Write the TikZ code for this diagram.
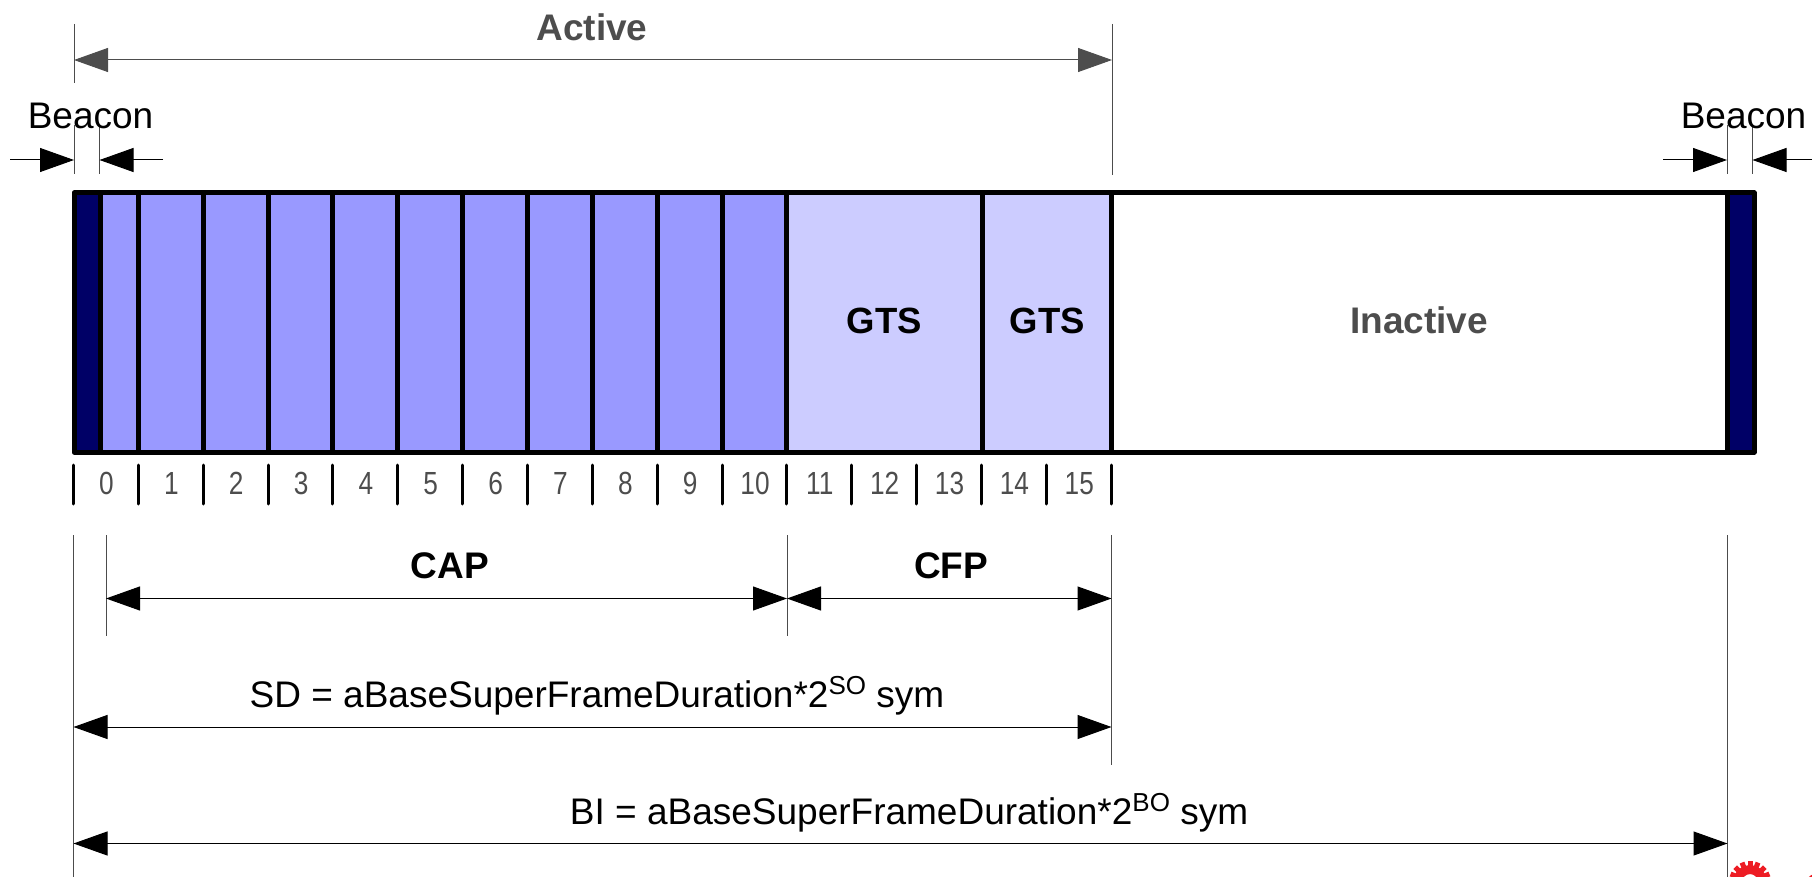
\documentclass[tikz,border=0pt]{standalone}
\usepackage{fontspec}
\setmainfont{Liberation Sans}
\usetikzlibrary{arrows.meta}
\definecolor{capblue}{HTML}{9999FF}
\definecolor{gtsblue}{HTML}{CCCCFF}
\definecolor{beaconblue}{HTML}{000066}
\definecolor{greytext}{HTML}{4D4D4D}
\definecolor{gearred}{HTML}{ED1C24}
\newcommand{\supr}[1]{\raisebox{13pt}{\fontsize{26}{26}\selectfont #1}}
\tikzset{
  x=1pt,y=-1pt,
  px/.style={font=\fontsize{#1}{#1}\selectfont},
  bpx/.style={font=\fontsize{#1}{#1}\selectfont\bfseries},
  heavy/.style={line width=5pt,line cap=round,line join=round},
  tick/.style={line width=3pt,line cap=round},
  guide/.style={line width=1pt,draw=black!70},
  dim/.style={line width=1pt,{Triangle[length=34pt,width=24pt,fill=black]}-{Triangle[length=34pt,width=24pt,fill=black]}},
  dimgrey/.style={line width=1pt,draw=greytext,{Triangle[length=34pt,width=24pt,fill=greytext]}-{Triangle[length=34pt,width=24pt,fill=greytext]}},
  onehead/.style={line width=1pt,-{Triangle[length=34pt,width=24pt,fill=black]}},
  txt/.style={inner sep=0pt,anchor=base},
}
\begin{document}
\begin{tikzpicture}
\useasboundingbox (0,0) rectangle (1812,877);
% fills
\fill[capblue] (74,193) rectangle (787,452);
\fill[gtsblue] (787,193) rectangle (1112,452);
\fill[beaconblue] (74,193) rectangle (100,452);
\fill[beaconblue] (1727,193) rectangle (1754,452);
% cell dividers
\foreach \i in {1,...,11}{
  \draw[heavy] ({73.5+\i*64.85},193) -- ({73.5+\i*64.85},452);
}
\draw[heavy] (100,193) -- (100,452);
\draw[heavy] (982,193) -- (982,452);
\draw[heavy] (1111.5,193) -- (1111.5,452);
\draw[heavy] (1727,193) -- (1727,452);
\draw[heavy] (74,193) rectangle (1754,452);
% ticks and numbers
\foreach \i in {0,...,16}{
  \draw[tick] ({73.5+\i*64.85},465) -- ({73.5+\i*64.85},504);
}
\foreach \i in {0,...,15}{
  \node[txt,px=32,text=greytext,xscale=0.82] at ({106.5+\i*64.85},494) {\i};
}
% guides
\coordinate (aL) at (74,60); \coordinate (aR) at (1112,60);
\coordinate (bL1) at (74,160); \coordinate (bL2) at (99.5,160);
\coordinate (bR1) at (1727,160); \coordinate (bR2) at (1752.5,160);
\draw[guide] (74,24) -- (74,83);
\draw[guide] (74,125) -- (74,174);
\draw[guide] (99.5,125) -- (99.5,174);
\draw[guide] (1112,24) -- (1112,175);
\draw[guide] (1727,125) -- (1727,174);
\draw[guide] (1752.5,125) -- (1752.5,174);
\draw[guide] (73.5,535) -- (73.5,877);
\draw[guide] (106,535) -- (106,636);
\draw[guide] (787,535) -- (787,636);
\draw[guide] (1111.5,535) -- (1111.5,765);
\draw[guide] (1727.5,535) -- (1727.5,877);
% dimension arrows
\draw[dimgrey] (aL) -- (aR);
\draw[dim] (106,598.5) -- (787,598.5);
\draw[dim] (787,598.5) -- (1111.5,598.5);
\draw[dim] (73.5,727) -- (1111.5,727);
\draw[dim] (73.5,843.5) -- (1727.5,843.5);
\coordinate (b1) at (10,160); \coordinate (b2) at (163,160);
\coordinate (b3) at (1663,160); \coordinate (b4) at (1812,160);
\draw[onehead] (b1) -- (bL1);
\draw[onehead] (b2) -- (bL2);
\draw[onehead] (b3) -- (bR1);
\draw[onehead] (b4) -- (bR2);
% labels
\node[txt,px=37] at (90.5,129) {Beacon};
\node[txt,px=37] at (1743.5,129) {Beacon};
\node[txt,bpx=37,text=greytext] at (592,41) {Active};
\node[txt,bpx=36.5] at (884.5,334) {GTS};
\node[txt,bpx=36.5] at (1047.5,334) {GTS};
\node[txt,bpx=37,text=greytext] at (1419,334) {Inactive};
\node[txt,bpx=37] at (450,578) {CAP};
\node[txt,bpx=37] at (951,578) {CFP};
\node[txt,px=37] at (597,707) {SD = aBaseSuperFrameDuration*2\supr{SO} sym};
\node[txt,px=37] at (909,824) {BI = aBaseSuperFrameDuration*2\supr{BO} sym};
% gear cut by the lower edge
\begin{scope}
\clip (0,0) rectangle (1812,877);
\foreach \a in {0,22.5,...,337.5}{
  \fill[gearred,rotate around={\a:(1750,882)}] (1747.5,861) rectangle (1752.5,868);
}
\draw[gearred,line width=9pt] (1750,882) circle[radius=12.5];
\draw[gearred,line width=6pt] (1822,892) circle[radius=17];
\end{scope}
\end{tikzpicture}
\end{document}
